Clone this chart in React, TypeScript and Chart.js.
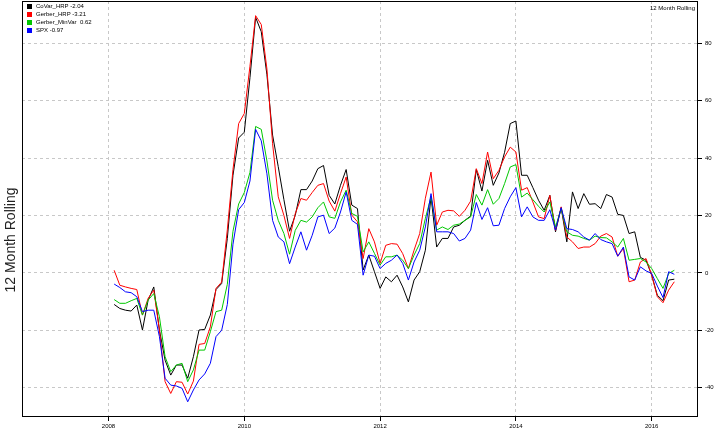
import React, { useEffect, useRef } from "react";
import { Chart, registerables } from "chart.js";

Chart.register(...registerables);

// First observation: end of January 2008, monthly through April 2016
const startYear = 2008;

const seriesNames = ["CoVar_HRP -2.04", "Gerber_HRP -3.21", "Gerber_MinVar  0.62", "SPX -0.97"];
const seriesColors = ["#000000", "#ff0000", "#00c800", "#0000ff"];

const coVarHRP = [
  -11, -12.4, -13, -13.3, -11.2, -19.9, -9.5, -4.9, -19.9, -30.4,
  -35.6, -32.1, -32.1, -36.7, -29.2, -19.9, -19.7, -14.7, -5.8, -3.7,
  12, 34, 47, 49, 68, 89, 84, 69, 48, 37,
  25.5, 14.5, 20, 29, 29, 32, 36.3, 37.4, 27, 24,
  30.5, 36, 23.6, 22.4, 1, 6.2, 0.4, -5.4, -1.4, -3.1,
  -0.8, -4.9, -10.1, -2.5, 0.4, 7.9, 26.5, 9, 12, 12,
  16, 16.6, 18.3, 19.8, 36, 28.5, 39.2, 30.5, 34.8, 42,
  52, 52.9, 34, 34, 29.7, 25.3, 21.8, 27, 14.3, 22.7,
  10.8, 28.2, 22.4, 27.6, 23.9, 24.1, 22.4, 27.3, 26.4, 20.4,
  20, 13.7, 14.3, 5.4, 4.4, -0.8, -7.8, -9.7, -2.5, -2.2,
];

const gerberHRP = [
  0.9, -4.3, -4.9, -5.4, -5.8, -14.7, -8.9, -6, -19.9, -37.9,
  -42, -37.9, -38.1, -42.2, -37.7, -24.9, -24.6, -18.8, -5.4, -3.2,
  15, 36, 52, 55.5, 72, 89.6, 86.5, 71, 45, 26.5,
  20, 12, 20.6, 25.9, 25.3, 28, 30.5, 31.1, 25, 21.5,
  27.6, 33.4, 20.1, 17.8, 5, 15.4, 10.8, 3.3, 9.6, 10.2,
  10, 6.7, 1.5, 7.9, 13.7, 26, 35.1, 16.6, 21.2, 21.8,
  21.6, 19.7, 21.8, 25, 36.3, 31.1, 42.1, 32.8, 35.7, 40.4,
  43.8, 42.1, 28.8, 29.7, 24.7, 19.5, 18.9, 27, 14.8, 23,
  12.5, 10.8, 8.5, 9, 9, 10.2, 12.8, 13.7, 12.5, 5.8,
  8.5, -3.1, -2.5, 3.8, 5, -0.8, -8.3, -10.4, -6, -3.1,
];

const gerberMinVar = [
  -9.3, -10.6, -10.6, -9.7, -8.9, -14.7, -9.5, -7.2, -15.3, -29.2,
  -34.4, -32.1, -31.5, -37.9, -33.8, -26.9, -26.9, -20.5, -13.5, -13,
  -4, 14.5, 24, 28, 35, 51, 50, 39, 25.3, 18.3,
  13.7, 6.5, 14.8, 18.3, 17.7, 19.5, 22.7, 24.7, 19.5, 19,
  24.7, 28.8, 20.7, 19.7, 7.3, 10.8, 6.8, 2.7, 5.6, 5.6,
  6.2, 4.4, 1.5, 6.2, 10.2, 19, 26.5, 14.9, 16, 15.1,
  16.6, 17, 18.3, 19.5, 27.3, 23.6, 29, 23.9, 25.9, 31.1,
  36.9, 37.7, 26.4, 27.8, 25.5, 23.2, 21.2, 24.7, 16, 22.4,
  14.3, 13.1, 12.8, 12, 11.4, 12.8, 12.3, 12.2, 10.8, 9,
  12, 4.4, 4.7, 5, 3.8, 1.5, -2, -5.4, -0.2, 0.9,
];

const spx = [
  -3.9, -5.1, -6.6, -6.9, -8.3, -13.5, -13, -13, -22.2, -36.7,
  -39.1, -39.4, -40.2, -44.9, -40.8, -37.3, -35.2, -31.5, -22.2, -20,
  -11, 10, 22, 24.5, 32, 50, 46, 34.5, 18.3, 12.5,
  10.8, 3.2, 9, 14.3, 7.9, 13.1, 19.5, 20.1, 13.7, 15.6,
  21.2, 28.2, 18.3, 16.9, -0.8, 6.2, 5.8, 1.5, 3.3, 4.4,
  6.2, 3.3, -2.5, 3.8, 7.9, 16, 27.6, 14.3, 14.3, 14.3,
  13.7, 11.1, 12, 14.9, 24.5, 18.6, 22.7, 16.4, 16.6, 22.4,
  26.5, 29.7, 19.5, 23, 19.5, 18.3, 18.3, 22, 14.9, 22.7,
  15.4, 15.1, 14.3, 12.5, 11.4, 13.7, 11.6, 10.8, 10.2, 5.8,
  9, -1.4, -2.5, 2.1, 0.7, -0.2, -4.6, -8.6, 0.4, -0.5,
];

const xTicks = [2008, 2010, 2012, 2014, 2016];
const yTicks = [-40, -20, 0, 20, 40, 60, 80];
const yAxisTitle = "12 Month Rolling";
const cornerTitle = "12 Month Rolling";

const FONT = "'Liberation Sans', Arial, sans-serif";

const decorPlugin = {
  id: "decor",
  afterDraw(chart: any) {
    const { ctx, chartArea: a } = chart;
    ctx.save();
    // frame
    ctx.strokeStyle = "#000";
    ctx.lineWidth = 1;
    ctx.setLineDash([]);
    ctx.strokeRect(Math.round(a.left) + 0.5, Math.round(a.top) + 0.5, Math.round(a.right - a.left) - 1, Math.round(a.bottom - a.top) - 1);
    // legend
    ctx.font = `6px ${FONT}`;
    ctx.textBaseline = "middle";
    ctx.textAlign = "left";
    seriesNames.forEach((name, i) => {
      const cy = a.top + 5.5 + i * 8;
      ctx.fillStyle = seriesColors[i];
      ctx.fillRect(a.left + 5, cy - 2.5, 5, 5);
      ctx.fillStyle = "#000";
      ctx.fillText(name, a.left + 14, cy);
    });
    // corner title
    ctx.textAlign = "right";
    ctx.fillText(cornerTitle, a.right - 3, a.top + 7.5);
    // y-axis title (left, rotated)
    ctx.font = `14px ${FONT}`;
    ctx.fillStyle = "#222";
    ctx.translate(11, 240);
    ctx.rotate(-Math.PI / 2);
    ctx.textAlign = "center";
    ctx.fillText(yAxisTitle, 0, 0);
    ctx.restore();
  },
};

export default function App() {
  const ref = useRef<HTMLCanvasElement | null>(null);

  useEffect(() => {
    document.body.style.margin = "0";
    const canvas = ref.current;
    if (!canvas) return;
    const xs = coVarHRP.map((_, i) => startYear + (i + 1) / 12);
    const all = [coVarHRP, gerberHRP, gerberMinVar, spx];
    const chart = new Chart(canvas, {
      type: "line",
      data: {
        datasets: all.map((vals, k) => ({
          label: seriesNames[k],
          data: vals.map((v, i) => ({ x: xs[i], y: v })),
          borderColor: seriesColors[k],
          backgroundColor: seriesColors[k],
          borderWidth: 1,
          pointRadius: 0,
          tension: 0,
          order: 4 - k,
        })),
      },
      options: {
        animation: false,
        responsive: false,
        devicePixelRatio: 1,
        layout: { padding: { left: 22, top: 1, right: 0, bottom: 0 } },
        plugins: { legend: { display: false }, tooltip: { enabled: false } },
        scales: {
          x: {
            type: "linear",
            min: 2006.726,
            max: 2016.682,
            afterBuildTicks: (s: any) => {
              s.ticks = xTicks.map((v) => ({ value: v }));
            },
            afterFit: (s: any) => {
              s.height = 15;
              s.paddingLeft = 0;
              s.paddingRight = 0;
              s.paddingTop = 0;
              s.paddingBottom = 0;
            },
            grid: {
              color: "#c8c8c8",
              lineWidth: 1,
              drawTicks: true,
              tickLength: 4,
              tickColor: "#000",
              tickWidth: 1,
            },
            border: { display: false, dash: [3, 3] },
            ticks: {
              color: "#000",
              font: { size: 6, family: FONT },
              padding: 2,
              maxRotation: 0,
              autoSkip: false,
              callback: (v: any) => String(v),
            },
          },
          y: {
            type: "linear",
            position: "right",
            min: -50.2,
            max: 94.7,
            afterBuildTicks: (s: any) => {
              s.ticks = yTicks.map((v) => ({ value: v }));
            },
            afterFit: (s: any) => {
              s.width = 22;
              s.paddingTop = 0;
              s.paddingBottom = 0;
              s.paddingLeft = 0;
              s.paddingRight = 0;
            },
            grid: {
              color: "#c8c8c8",
              lineWidth: 1,
              drawTicks: true,
              tickLength: 4,
              tickColor: "#000",
              tickWidth: 1,
            },
            border: { display: false, dash: [3, 3] },
            ticks: {
              color: "#000",
              font: { size: 6, family: FONT },
              padding: 3,
              autoSkip: false,
              callback: (v: any) => String(v),
            },
          },
        },
      },
      plugins: [decorPlugin],
    });
    return () => chart.destroy();
  }, []);

  return (
    <div style={{ width: 720, height: 432 }}>
      <canvas ref={ref} width={720} height={432} style={{ display: "block" }} />
    </div>
  );
}
